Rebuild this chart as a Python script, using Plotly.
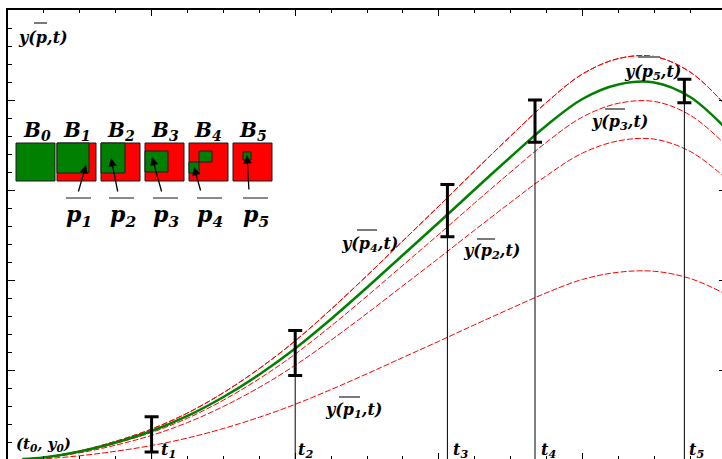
import plotly.graph_objects as go

# ---------------- data ----------------
t = [0.10, 0.25, 0.50, 0.75, 1.00, 1.25, 1.50, 1.75, 2.00, 2.25, 2.50, 2.75, 3.00,
     3.25, 3.50, 3.75, 4.00, 4.25, 4.50, 4.75, 5.00, 5.10]
y_true = [0.011, 0.028, 0.094, 0.194, 0.322, 0.489, 0.700, 0.950, 1.239, 1.567, 1.917, 2.278, 2.639,
          3.006, 3.367, 3.717, 4.011, 4.172, 4.194, 4.033, 3.683, 3.511]
y_p5 = [0.012, 0.030, 0.101, 0.208, 0.344, 0.522, 0.748, 1.016, 1.324, 1.675, 2.049, 2.435, 2.821,
        3.213, 3.599, 3.973, 4.288, 4.460, 4.483, 4.311, 3.938, 3.753]
y_p4 = [0.012, 0.030, 0.101, 0.208, 0.344, 0.522, 0.748, 1.016, 1.324, 1.675, 2.049, 2.435, 2.821,
        3.213, 3.599, 3.973, 4.288, 4.460, 4.483, 4.311, 3.938, 3.753]
y_p3 = [0.011, 0.026, 0.090, 0.185, 0.306, 0.464, 0.665, 0.903, 1.177, 1.489, 1.821, 2.164, 2.507,
        2.856, 3.199, 3.531, 3.811, 3.963, 3.984, 3.832, 3.499, 3.336]
y_p2 = [0.009, 0.024, 0.080, 0.165, 0.274, 0.416, 0.595, 0.807, 1.053, 1.332, 1.629, 1.936, 2.243,
        2.555, 2.862, 3.159, 3.410, 3.546, 3.565, 3.429, 3.131, 2.984]
y_p1 = [0.006, 0.014, 0.047, 0.097, 0.161, 0.244, 0.350, 0.475, 0.619, 0.783, 0.958, 1.139, 1.319,
        1.503, 1.683, 1.858, 2.006, 2.086, 2.097, 2.017, 1.842, 1.756]

t_obs = [1.0, 2.0, 3.06, 3.67, 4.71]
bar_lo = [0.09, 0.94, 2.48, 3.53, 3.97]
bar_hi = [0.48, 1.44, 3.06, 4.00, 4.23]
t_names = ["t<sub>1</sub>", "t<sub>2</sub>", "t<sub>3</sub>", "t<sub>4</sub>", "t<sub>5</sub>"]

box_names = ["B<sub>0</sub>", "B<sub>1</sub>", "B<sub>2</sub>", "B<sub>3</sub>", "B<sub>4</sub>", "B<sub>5</sub>"]
p_names = ["p<sub>1</sub>", "p<sub>2</sub>", "p<sub>3</sub>", "p<sub>4</sub>", "p<sub>5</sub>"]

# ---------------- pixel helpers for decorations ----------------
X0, SX, Y0, SY = 8.0, 143.6, 460.0, 90.0
def dx(px):
    return (px - X0) / SX
def dy(py):
    return (Y0 - py) / SY

RED = "#ff0000"
GREEN = "#008000"
FONT = "DejaVu Serif"

fig = go.Figure()

red_dash = "6px,2px"
for ys in [y_p1, y_p2, y_p3, y_p4, y_p5]:
    fig.add_trace(go.Scatter(x=t, y=ys, mode="lines",
                             line=dict(color=RED, width=1, dash=red_dash, shape="spline", smoothing=1.0),
                             hoverinfo="skip", showlegend=False))
fig.add_trace(go.Scatter(x=t, y=y_true, mode="lines",
                         line=dict(color=GREEN, width=2.5, shape="spline", smoothing=1.0),
                         hoverinfo="skip", showlegend=False))

# vertical guide lines at observation times
vx, vy = [], []
for ti, lo in zip(t_obs, bar_lo):
    vx += [ti, ti, None]
    vy += [lo, 0, None]
fig.add_trace(go.Scatter(x=vx, y=vy, mode="lines", line=dict(color="black", width=1),
                         hoverinfo="skip", showlegend=False))

# error bars
fig.add_trace(go.Scatter(x=t_obs, y=bar_lo, mode="markers", marker=dict(size=1, opacity=0),
                         error_y=dict(type="data", symmetric=False,
                                      array=[h - l for h, l in zip(bar_hi, bar_lo)],
                                      arrayminus=[0] * len(bar_lo),
                                      color="black", thickness=3, width=7),
                         hoverinfo="skip", showlegend=False))

# dummy traces for the mirrored axes
fig.add_trace(go.Scatter(x=[None], y=[None], xaxis="x2", yaxis="y2", showlegend=False))

shapes = []
annotations = []

def ann(text, xpx, ypx, size, xanchor="left"):
    annotations.append(dict(x=dx(xpx), y=dy(ypx), xref="x", yref="y", text="<b><i>" + text + "</i></b>",
                            showarrow=False, xanchor=xanchor, yanchor="middle",
                            font=dict(family=FONT, size=size, color="black")))

def bar(x1, x2, ypx, color="#7a7a7a"):
    shapes.append(dict(type="line", xref="x", yref="y", x0=dx(x1), x1=dx(x2), y0=dy(ypx), y1=dy(ypx),
                       line=dict(color=color, width=2)))

def rect(x1, y1, x2, y2, fill):
    shapes.append(dict(type="rect", xref="x", yref="y", x0=dx(x1), x1=dx(x2), y0=dy(y1), y1=dy(y2),
                       fillcolor=fill, line=dict(color="#1a1a1a", width=1), layer="above"))

# boxes B0..B5
box_left = [16, 57, 101, 145, 189, 233]
for i, bl in enumerate(box_left):
    rect(bl, 143, bl + 39, 181, GREEN if i == 0 else RED)
rect(57, 143, 89, 173, GREEN)
rect(101, 143, 125, 173, GREEN)
rect(145, 151, 168, 172, GREEN)
rect(199, 151, 212, 162, GREEN)
rect(189, 162, 199, 173, GREEN)
rect(243, 152, 251, 160, GREEN)

box_cx = [37, 77, 121, 165, 208, 253]
for name, cx in zip(box_names, box_cx):
    ann(name, cx, 131, 20, xanchor="center")

p_cx = [79, 123, 166, 210, 256]
bar_l = [66, 109, 153, 197, 243]
for name, cx, bl in zip(p_names, p_cx, bar_l):
    ann(name, cx, 216, 22, xanchor="center")
    bar(bl, bl + 25, 198, "#8a8a8a")

# arrows from labels to the boxes
arrows = [((86, 165), (78, 193)), ((111, 158), (118, 193)), ((152, 157), (162, 193)),
          ((194, 167), (201, 192)), ((247, 155), (249, 191))]
for (hx, hy), (tx, ty) in arrows:
    annotations.append(dict(x=dx(hx), y=dy(hy), xref="x", yref="y", ax=tx - hx, ay=ty - hy,
                            axref="pixel", ayref="pixel", text="", showarrow=True,
                            arrowhead=2, arrowsize=1.3, arrowwidth=1.3, arrowcolor="black"))

# curve labels
ann("y(p,t)", 16, 37, 16)
bar(34, 47, 23)
ann("y(p<sub>1</sub>,t)", 323, 410, 16)
bar(339, 360, 397)
ann("y(p<sub>4</sub>,t)", 339, 244, 16)
bar(357, 377, 230)
ann("y(p<sub>2</sub>,t)", 461, 251, 16)
bar(477, 495, 239)
ann("y(p<sub>5</sub>,t)", 622, 72, 16)
bar(638, 660, 57)
ann("y(p<sub>3</sub>,t)", 589, 122, 16)
bar(605, 625, 109)
ann("(t<sub>0</sub>, y<sub>0</sub>)", 14, 444, 15)

t_lx = [159, 296, 451, 539, 687]
for name, lx in zip(t_names, t_lx):
    ann(name, lx, 450, 16)

xr = [0, (722 - X0) / SX]
yr = [(Y0 - 459) / SY, (Y0 - 10) / SY]

fig.update_layout(
    width=722, height=459,
    margin=dict(l=8, r=0, t=10, b=0),
    paper_bgcolor="white", plot_bgcolor="white",
    showlegend=False,
    shapes=shapes, annotations=annotations,
    xaxis=dict(range=xr, showgrid=False, zeroline=False, showline=False,
               ticks="inside", ticklen=6, tickwidth=1, tickcolor="black",
               tick0=0, dtick=1, showticklabels=False,
               minor=dict(ticks="inside", ticklen=3, tickwidth=1, tickcolor="black", dtick=0.25, showgrid=False)),
    xaxis2=dict(range=xr, matches="x", overlaying="x", side="top", anchor="y",
                showgrid=False, zeroline=False, showline=True, linewidth=2, linecolor="black",
                ticks="inside", ticklen=6, tickwidth=1, tickcolor="black",
                tick0=0, dtick=1, showticklabels=False,
                minor=dict(ticks="inside", ticklen=3, tickwidth=1, tickcolor="black", dtick=0.25, showgrid=False)),
    yaxis=dict(range=yr, showgrid=False, zeroline=False, showline=True, linewidth=2, linecolor="black",
               ticks="inside", ticklen=7, tickwidth=1, tickcolor="black",
               tick0=0, dtick=1, showticklabels=False,
               minor=dict(ticks="inside", ticklen=4, tickwidth=1, tickcolor="black", dtick=0.2, showgrid=False)),
    yaxis2=dict(range=yr, overlaying="y", side="right", anchor="x",
                showgrid=False, zeroline=False, showline=False,
                ticks="inside", ticklen=3, tickwidth=1, tickcolor="black",
                tick0=0, dtick=1, showticklabels=False),
)

fig.write_html("out.html")
